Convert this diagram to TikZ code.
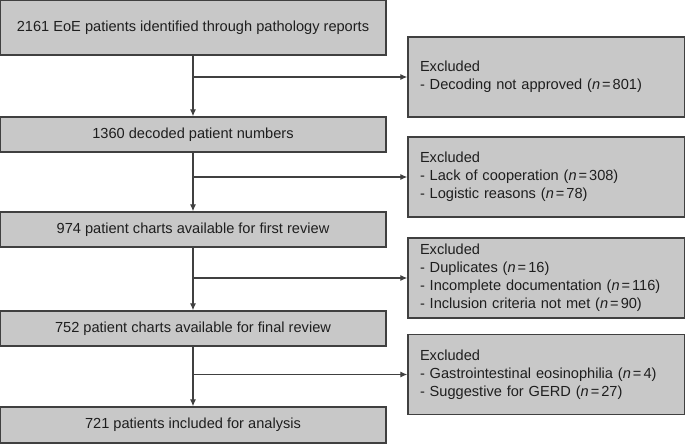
\documentclass[tikz,border=0pt]{standalone}
\usepackage{fontspec}
\setmainfont{Liberation Sans}
\usetikzlibrary{arrows.meta}
\definecolor{boxgray}{HTML}{C8C8C8}
\definecolor{edgegray}{HTML}{404040}
\definecolor{textgray}{HTML}{1E1E1E}
\newcommand{\ncount}[1]{(\textit{n}\kern2pt=\kern2pt#1)}
\tikzset{
  stagebox/.style={draw=edgegray, line width=1.3pt, fill=boxgray, text=textgray,
    minimum width=386pt, inner sep=0pt, font=\fontsize{14.6}{18}\selectfont},
  exclbox/.style={draw=edgegray, line width=1.3pt, fill=boxgray, text=textgray,
    text width=253pt, align=left, inner xsep=12pt, minimum height=80pt,
    font=\fontsize{14.6}{18}\selectfont},
  flow/.style={draw=edgegray, line width=1.2pt, -{Latex[length=7pt,width=6pt]}},
  branch/.style={draw=edgegray, line width=1.2pt}
}

\begin{document}
\begin{tikzpicture}[x=1pt, y=1pt]
\useasboundingbox (0,0) rectangle (685,-444);
% stages
\node[stagebox, minimum height=55pt] (identified) at (193,-27.5) {2161 EoE patients identified through pathology reports};
\node[stagebox, minimum height=35pt] (decoded) at (193,-134.5) {1360 decoded patient numbers};
\node[stagebox, minimum height=35pt] (firstrev) at (193,-229.5) {974 patient charts available for first review};
\node[stagebox, minimum height=35pt] (finalrev) at (193,-328.5) {752 patient charts available for final review};
\node[stagebox, minimum height=36pt] (analysis) at (193,-425) {721 patients included for analysis};
% exclusions
\node[exclbox] (exclA) at (546.5,-77) {Excluded\\- Decoding not approved \ncount{801}};
\node[exclbox] (exclB) at (546.5,-177) {Excluded\\- Lack of cooperation \ncount{308}\\- Logistic reasons \ncount{78}};
\node[exclbox] (exclC) at (546.5,-278) {Excluded\\- Duplicates \ncount{16}\\- Incomplete documentation \ncount{116}\\- Inclusion criteria not met \ncount{90}};
\node[exclbox] (exclD) at (546.5,-374.5) {Excluded\\- Gastrointestinal eosinophilia \ncount{4}\\- Suggestive for GERD \ncount{27}};
% main flow
\draw[flow] (identified) -- (decoded);
\draw[flow] (decoded) -- (firstrev);
\draw[flow] (firstrev) -- (finalrev);
\draw[flow] (finalrev) -- (analysis);
% side branches
\draw[flow] (identified.south |- exclA.west) -- (exclA.west);
\draw[flow] (decoded.south |- exclB.west) -- (exclB.west);
\draw[flow] (firstrev.south |- exclC.west) -- (exclC.west);
\draw[flow] (finalrev.south |- exclD.west) -- (exclD.west);
\end{tikzpicture}
\end{document}
